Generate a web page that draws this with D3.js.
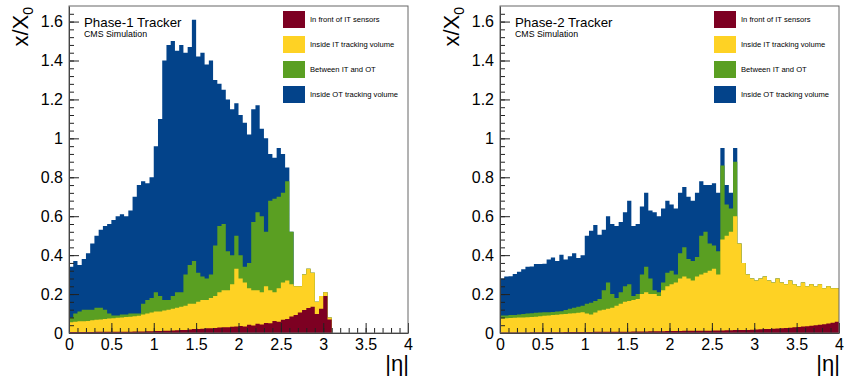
<!DOCTYPE html>
<html>
<head>
<meta charset="utf-8">
<script src="https://cdn.jsdelivr.net/npm/d3@7"></script>
<style>
  html, body { margin: 0; padding: 0; background: #fff; }
  svg { display: block; font-family: "Liberation Sans", Arial, Helvetica, sans-serif; }
</style>
</head>
<body>
<svg id="chart" width="844" height="378"></svg>
<script>
// legend / layer info
const layerNames = ['In front of IT sensors', 'Inside IT tracking volume', 'Between IT and OT', 'Inside OT tracking volume'];
const layerKeys = ['front', 'it', 'between', 'ot'];
const layerColors = ['#7d0022', '#fed224', '#5a9f22', '#03438a'];

// |eta| bins, lower edges, width 0.05
const etaLow = d3.range(80).map(i => +(i * 0.05).toFixed(2));

const xTicks = [0, 0.5, 1, 1.5, 2, 2.5, 3, 3.5, 4];
const xTickLabels = ['0', '0.5', '1', '1.5', '2', '2.5', '3', '3.5', '4'];
const yTicks = [0, 0.2, 0.4, 0.6, 0.8, 1, 1.2, 1.4, 1.6];
const yTickLabels = ['0', '0.2', '0.4', '0.6', '0.8', '1', '1.2', '1.4', '1.6'];

// Phase-1 tracker, x/X0 per bin
const p1Front = [
  .005, .005, .005, .005, .005, .005, .006, .006, .006, .006,
  .006, .007, .007, .007, .007, .008, .008, .008, .009, .009,
  .010, .010, .011, .012, .013, .014, .015, .016, .018, .020,
  .020, .022, .024, .025, .026, .028, .030, .030, .032, .034,
  .036, .034, .042, .038, .048, .044, .052, .050, .062, .058,
  .068, .072, .085, .092, .105, .118, .128, .135, .098, .125,
  .190, .070, 0, 0, 0, 0, 0, 0, 0, 0,
  0, 0, 0, 0, 0, 0, 0, 0, 0, 0];
const p1IT = [
  .050, .053, .055, .055, .057, .060, .062, .064, .066, .068,
  .070, .071, .073, .075, .077, .078, .080, .087, .091, .096,
  .100, .100, .104, .108, .112, .116, .120, .124, .132, .130,
  .140, .148, .146, .155, .164, .182, .190, .190, .218, .296,
  .244, .226, .188, .182, .172, .166, .188, .170, .148, .172,
  .192, .198, .165, .148, .135, .182, .202, .175, .062, .065,
  .020, .010, 0, 0, 0, 0, 0, 0, 0, 0,
  0, 0, 0, 0, 0, 0, 0, 0, 0, 0];
const p1Between = [
  .025, .042, .050, .060, .058, .055, .062, .060, .048, .026,
  .014, .012, .015, .013, .016, .014, .012, .055, .070, .075,
  .100, .080, .055, .050, .065, .080, .075, .160, .200, .220,
  .150, .120, .110, .120, .260, .340, .340, .200, .150, .170,
  .120, .080, .130, .350, .400, .390, .280, .460, .480, .470,
  .460, .510, .270, 0, 0, 0, 0, 0, 0, 0,
  0, 0, 0, 0, 0, 0, 0, 0, 0, 0,
  0, 0, 0, 0, 0, 0, 0, 0, 0, 0];
const p1OT = [
  .26, .27, .24, .26, .29, .34, .37, .40, .43, .46,
  .49, .51, .515, .505, .53, .60, .66, .63, .60, .62,
  .75, .91, 1.23, 1.31, 1.31, 1.24, 1.27, 1.14, 1.12, 1.24,
  1.11, 1.15, 1.10, 1.10, .85, .73, .69, .78, .75, .68,
  .72, .74, .66, .58, .55, .45, .48, .24, .21, .25,
  .20, .07, 0, 0, 0, 0, 0, 0, 0, 0,
  0, 0, 0, 0, 0, 0, 0, 0, 0, 0,
  0, 0, 0, 0, 0, 0, 0, 0, 0, 0];

// Phase-2 tracker
const p2Front = [
  .003, .003, .003, .003, .003, .003, .003, .004, .004, .004,
  .004, .004, .004, .004, .004, .005, .005, .005, .005, .005,
  .005, .005, .006, .006, .006, .006, .006, .007, .007, .007,
  .007, .008, .008, .008, .008, .009, .009, .009, .009, .010,
  .010, .010, .010, .011, .011, .011, .011, .012, .012, .012,
  .013, .013, .013, .014, .014, .015, .015, .015, .016, .017,
  .018, .019, .020, .021, .022, .023, .024, .026, .027, .029,
  .031, .033, .035, .037, .040, .042, .045, .049, .053, .058];
const p2IT = [
  .072, .073, .074, .075, .076, .077, .078, .078, .080, .082,
  .084, .086, .088, .090, .092, .093, .095, .097, .099, .101,
  .095, .090, .099, .109, .114, .119, .124, .133, .143, .153,
  .158, .162, .167, .192, .202, .191, .191, .181, .211, .230,
  .240, .250, .270, .279, .269, .259, .279, .288, .298, .308,
  .317, .287, .467, .486, .506, .585, .445, .345, .284, .263,
  .252, .261, .270, .249, .238, .257, .236, .224, .243, .221,
  .209, .227, .205, .213, .200, .208, .185, .191, .177, .172];
const p2Between = [
  .015, .014, .015, .015, .016, .017, .019, .020, .020, .019,
  .018, .017, .016, .016, .016, .020, .024, .028, .031, .034,
  .050, .060, .060, .060, .100, .135, .070, .040, .060, .080,
  .085, .020, .025, .100, .130, .080, .020, .020, .040, .070,
  .070, .040, .130, .150, .100, .100, .100, .200, .210, .140,
  .120, .120, .380, .160, .120, .280, 0, 0, 0, 0,
  0, 0, 0, 0, 0, 0, 0, 0, 0, 0,
  0, 0, 0, 0, 0, 0, 0, 0, 0, 0];
const p2OT = [
  .19, .20, .20, .21, .22, .23, .24, .24, .25, .25,
  .25, .27, .28, .26, .29, .26, .27, .28, .25, .26,
  .35, .37, .39, .33, .31, .34, .36, .37, .36, .38,
  .43, .36, .36, .35, .38, .35, .40, .39, .38, .37,
  .34, .34, .31, .31, .32, .31, .33, .28, .24, .30,
  .32, .30, .09, .10, .08, .07, 0, 0, 0, 0,
  0, 0, 0, 0, 0, 0, 0, 0, 0, 0,
  0, 0, 0, 0, 0, 0, 0, 0, 0, 0];

const panels = [
  { title: 'Phase-1 Tracker', series: [p1Front, p1IT, p1Between, p1OT], left: 69, right: 408 },
  { title: 'Phase-2 Tracker', series: [p2Front, p2IT, p2Between, p2OT], left: 500, right: 839 },
];

const frameTop = 6, frameBottom = 333;
const font = '"Liberation Sans", Arial, Helvetica, sans-serif';
const svg = d3.select('#chart');

panels.forEach(p => {
  const g = svg.append('g');
  const x = d3.scaleLinear().domain([0, 4]).range([p.left, p.right]);
  const y = d3.scaleLinear().domain([0, 1.68]).range([frameBottom, frameTop]);

  const rows = etaLow.map((eta, i) => {
    const r = { eta };
    layerKeys.forEach((k, j) => { r[k] = p.series[j][i]; });
    return r;
  });
  rows.push({ ...rows[rows.length - 1], eta: 4 }); // close last step
  const stacked = d3.stack().keys(layerKeys)(rows);

  // THStack style: cumulative histograms drawn from 0, biggest first
  const area = d3.area().curve(d3.curveStepAfter)
    .x(d => x(d.data.eta))
    .y0(y(0))
    .y1(d => y(d[1]));
  g.selectAll('path.layer')
    .data(stacked.slice().reverse())
    .join('path')
    .attr('class', 'layer')
    .attr('d', area)
    .attr('fill', d => layerColors[d.index]);

  // axes
  const styleAxis = s => s.attr('font-family', font).attr('font-size', 16).attr('color', '#222');
  g.append('g')
    .attr('transform', `translate(0,${frameBottom})`)
    .call(d3.axisBottom(x).tickValues(d3.range(0, 4.01, 0.1)).tickSize(-5).tickFormat(''))
    .call(s => s.select('.domain').remove())
    .call(styleAxis);
  g.append('g')
    .attr('transform', `translate(0,${frameBottom})`)
    .call(d3.axisBottom(x).tickValues(xTicks).tickSize(-10).tickSizeOuter(0).tickPadding(6)
      .tickFormat((d, i) => xTickLabels[i]))
    .call(styleAxis)
    .call(s => s.selectAll('text').attr('fill', '#000'));
  g.append('g')
    .attr('transform', `translate(${p.left},0)`)
    .call(d3.axisLeft(y).tickValues(d3.range(0, 1.68, 0.04)).tickSize(-5).tickFormat(''))
    .call(s => s.select('.domain').remove())
    .call(styleAxis);
  g.append('g')
    .attr('transform', `translate(${p.left},0)`)
    .call(d3.axisLeft(y).tickValues(yTicks).tickSize(-10).tickSizeOuter(0).tickPadding(6)
      .tickFormat((d, i) => yTickLabels[i]))
    .call(styleAxis)
    .call(s => s.selectAll('text').attr('fill', '#000'));

  // frame
  g.append('rect')
    .attr('x', p.left).attr('y', frameTop)
    .attr('width', p.right - p.left).attr('height', frameBottom - frameTop)
    .attr('fill', 'none').attr('stroke', '#666').attr('stroke-width', 1);

  // axis titles
  const yt = g.append('text')
    .attr('transform', `translate(${p.left - 41},${frameTop + 1}) rotate(-90)`)
    .attr('text-anchor', 'end')
    .attr('font-size', 22)
    .text('x/X');
  yt.append('tspan').attr('font-size', 14).attr('dy', 5).text('0');

  g.append('text')
    .attr('x', p.right + 1).attr('y', 371)
    .attr('text-anchor', 'end')
    .attr('font-size', 22)
    .text('|η|');

  // labels
  g.append('text').attr('x', p.left + 15).attr('y', 27).attr('font-size', 13.3).text(p.title);
  g.append('text').attr('x', p.left + 15).attr('y', 36.5).attr('font-size', 8.8).text('CMS Simulation');

  // legend
  const leg = g.append('g').attr('transform', `translate(${p.left + 214},11)`);
  layerNames.forEach((name, i) => {
    leg.append('rect')
      .attr('x', 0).attr('y', i * 25)
      .attr('width', 22).attr('height', 17)
      .attr('fill', layerColors[i]);
    leg.append('text')
      .attr('x', 27).attr('y', i * 25 + 8.5)
      .attr('dy', '0.35em')
      .attr('font-size', 7.6)
      .text(name);
  });
});
</script>
</body>
</html>
